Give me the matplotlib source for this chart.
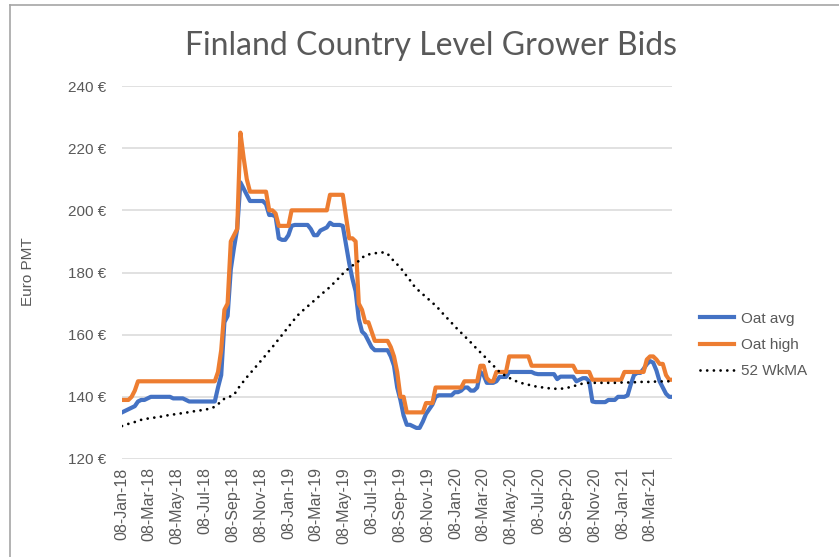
import matplotlib
matplotlib.use("Agg")
import matplotlib.pyplot as plt
import pandas as pd

# ---------------- data ----------------
start_date = "2018-01-08"
n_weeks = 173

oat_avg = [
    135, 135.5, 136, 136.5, 137, 138.5, 139, 139, 139.5, 140,
    140, 140, 140, 140, 140, 140, 139.5, 139.5, 139.5, 139.5,
    139, 138.5, 138.5, 138.5, 138.5, 138.5, 138.5, 138.5, 138.5, 138.5,
    143, 147, 164, 166, 181, 188, 194, 209, 207, 205,
    203, 203, 203, 203, 203, 202, 198.5, 198.5, 198, 191,
    190.5, 190.5, 192, 195, 195.3, 195.3, 195.3, 195.3, 195.3, 194,
    192, 192, 193.5, 194, 194.5, 196, 195.3, 195.3, 195.3, 195,
    189, 183, 178, 174, 165, 161, 160, 158, 156, 155,
    155, 155, 155, 155, 153, 150, 143, 139, 134, 131,
    131, 130.5, 130, 130, 132, 134.5, 136, 137.5, 140, 140.5,
    140.5, 140.5, 140.5, 140.5, 141.5, 141.5, 142, 143, 143, 142,
    142, 143, 148, 147, 144.5, 144.5, 144.5, 145, 146.4, 146.4,
    146.4, 148, 148, 148, 148, 148, 148, 148, 148, 147.5,
    147.3, 147.3, 147.3, 147.3, 147.3, 147.3, 145.7, 146.5, 146.5, 146.5,
    146.5, 146.5, 145, 145.5, 146, 146, 145, 138.5, 138.3, 138.3,
    138.3, 138.3, 139, 139, 139, 140, 140, 140, 140.5, 144,
    147, 147.7, 147.7, 149, 150.5, 151.5, 151, 148.5, 145, 143,
    141, 140, 140,
]

oat_high = [
    139, 139, 139, 140, 142, 145, 145, 145, 145, 145,
    145, 145, 145, 145, 145, 145, 145, 145, 145, 145,
    145, 145, 145, 145, 145, 145, 145, 145, 145, 145,
    148, 155, 168, 170, 190, 192, 194, 225, 217, 210,
    206, 206, 206, 206, 206, 206, 200, 200, 199, 195,
    195, 195, 195, 200, 200, 200, 200, 200, 200, 200,
    200, 200, 200, 200, 200, 205, 205, 205, 205, 205,
    198, 191, 191, 190, 170, 168, 164, 164, 161, 158,
    158, 158, 158, 158, 156, 153, 148, 140, 140, 135,
    135, 135, 135, 135, 135, 138, 138, 138, 143, 143,
    143, 143, 143, 143, 143, 143, 143, 145, 145, 145,
    145, 145, 150, 150, 146, 145, 145, 148, 148, 148,
    148, 153, 153, 153, 153, 153, 153, 153, 150, 150,
    150, 150, 150, 150, 150, 150, 150, 150, 150, 150,
    150, 150, 148, 148, 148, 148, 148, 145.5, 145.5, 145.5,
    145.5, 145.5, 145.5, 145.5, 145.5, 145.5, 145.5, 148, 148, 148,
    148, 148, 148, 148, 152, 153, 153, 152, 150.6, 150.6,
    147, 145.5, 145.5,
]

ma_52 = [
    130.6, 131.0, 131.3, 131.6, 131.9, 132.3, 132.6, 132.8, 133.0, 133.2,
    133.3, 133.5, 133.6, 133.8, 134.0, 134.2, 134.3, 134.5, 134.6, 134.8,
    134.9, 135.1, 135.3, 135.4, 135.6, 135.7, 135.9, 136.1, 136.4, 136.8,
    137.6, 138.6, 139.4, 139.8, 140.2, 140.6, 142.3, 143.7, 145.0, 146.3,
    147.5, 148.7, 149.9, 151.1, 152.3, 153.5, 154.8, 156.0, 157.3, 158.6,
    159.9, 161.2, 162.5, 163.8, 165.1, 166.3, 167.3, 168.2, 169.1, 170.0,
    170.9, 171.8, 172.7, 173.6, 174.4, 175.4, 176.4, 177.4, 178.5, 179.6,
    180.6, 181.4, 182.2, 183.0, 183.7, 184.7, 185.5, 185.8, 186.0, 186.2,
    186.3, 186.4, 186.5, 186.0, 184.8, 183.6, 182.6, 181.6, 180.2, 178.8,
    177.5, 176.0, 174.9, 173.9, 173.0, 172.1, 171.2, 170.3, 169.3, 168.3,
    167.1, 166.0, 164.9, 163.8, 162.7, 161.6, 160.6, 159.6, 158.5, 157.5,
    156.4, 155.3, 154.3, 153.3, 152.2, 151.1, 150.1, 149.0, 148.0, 147.3,
    146.7, 146.1, 145.6, 145.1, 144.7, 144.4, 144.1, 143.9, 143.6, 143.4,
    143.2, 143.1, 142.9, 142.8, 142.7, 142.6, 142.6, 142.6, 142.7, 142.9,
    143.1, 143.4, 143.7, 144.0, 144.3, 144.5, 144.5, 144.5, 144.5, 144.5,
    144.5, 144.5, 144.5, 144.5, 144.5, 144.5, 144.6, 144.6, 144.6, 144.7,
    144.7, 144.7, 144.8, 144.8, 144.8, 144.8, 144.9, 144.9, 144.9, 145.0,
    145.0, 145.0, 145.0,
]

tick_labels = [
    "08-Jan-18", "08-Mar-18", "08-May-18", "08-Jul-18", "08-Sep-18",
    "08-Nov-18", "08-Jan-19", "08-Mar-19", "08-May-19", "08-Jul-19",
    "08-Sep-19", "08-Nov-19", "08-Jan-20", "08-Mar-20", "08-May-20",
    "08-Jul-20", "08-Sep-20", "08-Nov-20", "08-Jan-21", "08-Mar-21",
]
y_ticks = [120, 140, 160, 180, 200, 220, 240]

series_names = ["Oat avg", "Oat high", "52 WkMA"]

# ---------------- plot ----------------
dates = pd.date_range(start_date, periods=n_weeks, freq="7D")
tick_dates = pd.to_datetime(tick_labels, format="%d-%b-%y")

W, H = 839, 557
fig = plt.figure(figsize=(W / 100, H / 100), dpi=100)
fig.patch.set_facecolor("white")

# chart area border (left and top visible)
fig.add_artist(plt.Line2D([10 / W, 10 / W], [0, 1 - 5 / H], color="#A6A6A6", lw=1.2))
fig.add_artist(plt.Line2D([10 / W, 1], [1 - 5 / H, 1 - 5 / H], color="#A6A6A6", lw=1.2))

left, right = 122 / W, 672.4 / W
bottom, top = (H - 459) / H, (H - 86) / H
ax = fig.add_axes([left, bottom, right - left, top - bottom])

gray = "#595959"
font = "Liberation Sans"

ax.plot(dates, oat_avg, color="#4472C4", lw=3.0, solid_joinstyle="round",
        label=series_names[0], zorder=3)
ax.plot(dates, oat_high, color="#ED7D31", lw=3.0, solid_joinstyle="round",
        label=series_names[1], zorder=4)
ax.plot(dates, ma_52, color="black", lw=2.0, linestyle=(0, (0.01, 2.4)),
        dash_capstyle="round", label=series_names[2], zorder=5)

ax.set_xlim(dates[0], dates[-1])
ax.set_ylim(120, 240)
ax.set_yticks(y_ticks)
ax.set_yticklabels([f"{v} €" for v in y_ticks], fontfamily=font, fontsize=11, color=gray)
ax.set_xticks(tick_dates)
ax.set_xticklabels(tick_labels, rotation=90, fontfamily=font, fontsize=11.5, color=gray)
ax.tick_params(axis="both", length=0)
ax.tick_params(axis="y", pad=11)
ax.tick_params(axis="x", pad=6)
ax.grid(axis="y", color="#D9D9D9", lw=1.1)
ax.set_axisbelow(True)
for s in ax.spines.values():
    s.set_visible(False)

fig.text(431 / W, 1 - 46 / H, "Finland Country Level Grower Bids", ha="center", va="center",
         fontsize=23, color=gray, fontfamily="Lato", fontweight="normal")
fig.text(28 / W, 1 - 272 / H, "Euro PMT", rotation=90, ha="center", va="center",
         fontsize=11, color=gray, fontfamily=font)

leg = fig.legend(loc="center left", bbox_to_anchor=(700 / W, 1 - 345 / H), frameon=False,
                 prop={"family": font, "size": 11}, handlelength=2.2, handletextpad=0.5,
                 labelspacing=0.8, borderpad=0, borderaxespad=0)
for t in leg.get_texts():
    t.set_color(gray)

fig.savefig("out.png", dpi=100)
